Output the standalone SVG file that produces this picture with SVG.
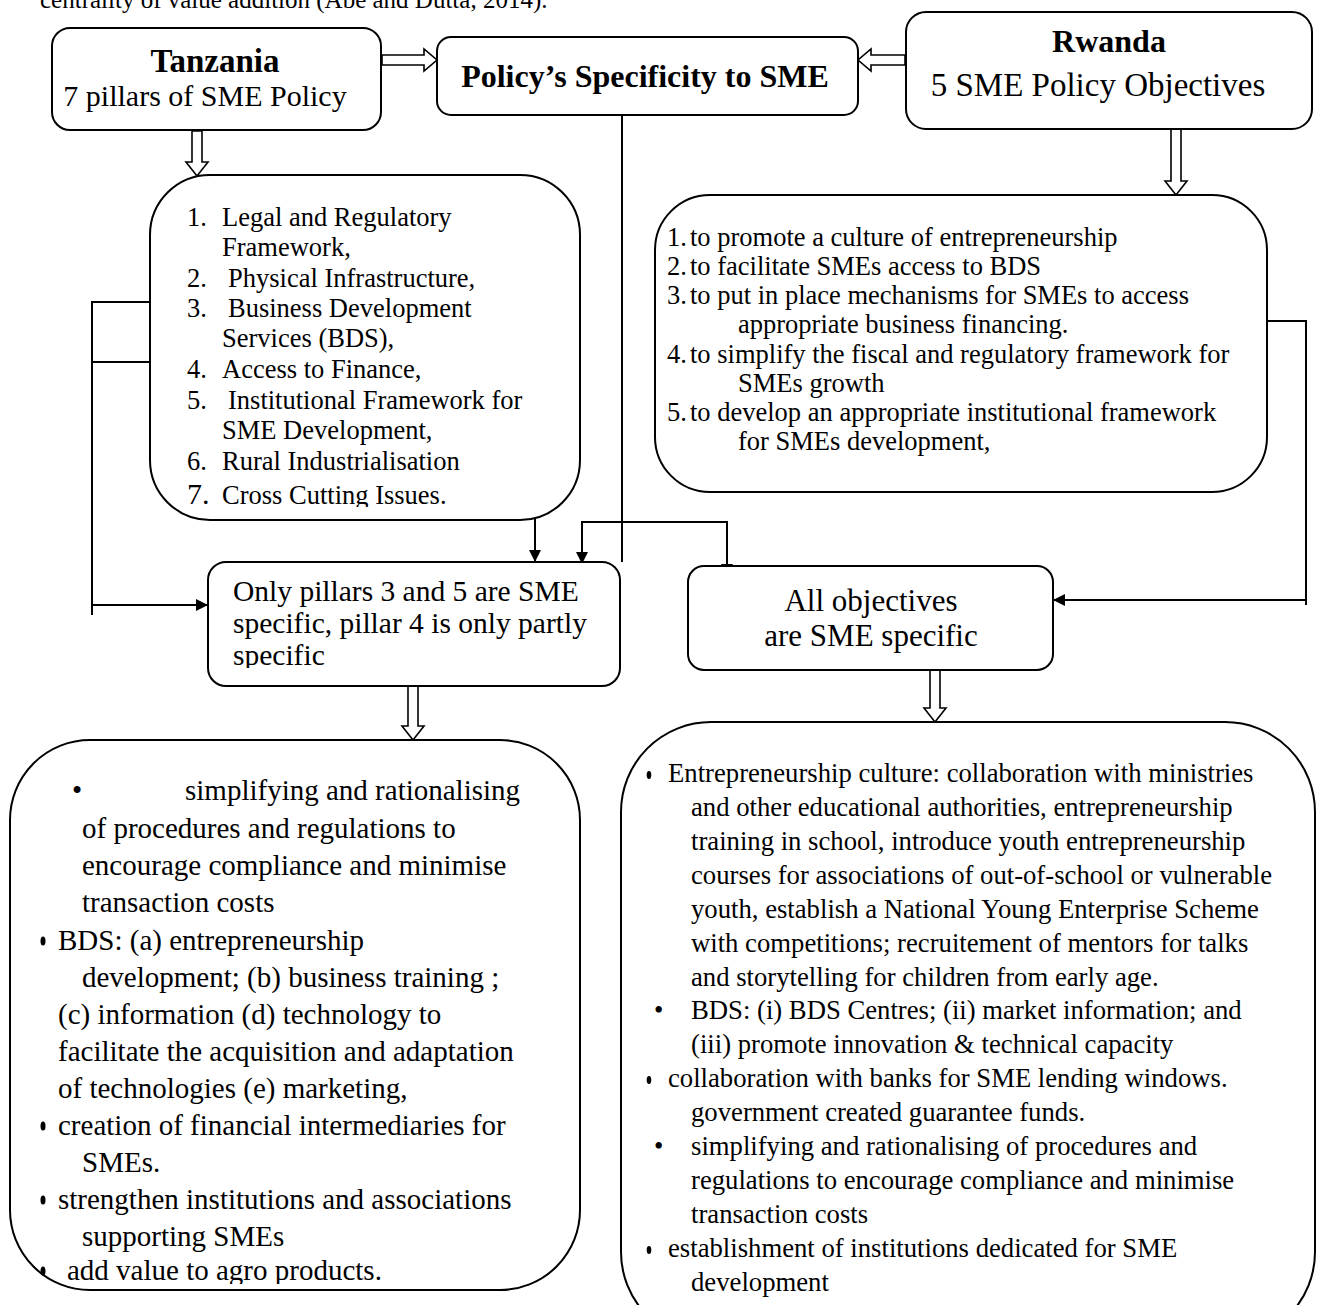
<svg xmlns="http://www.w3.org/2000/svg" width="1317" height="1305" viewBox="0 0 1317 1305">
  <style>
    .box { fill: #fff; stroke: #000; stroke-width: 2; }
    .blk { fill: #fff; stroke: #000; stroke-width: 1.6; }
    .ln { fill: none; stroke: #000; stroke-width: 2; }
    .t { font-family: "Liberation Serif", "Times New Roman", serif; fill: #000; }
    .b { font-weight: bold; }
  </style>
  <defs>
    <marker id="ah" viewBox="0 0 12 12" refX="12" refY="6" markerWidth="12" markerHeight="12" markerUnits="userSpaceOnUse" orient="auto">
      <path d="M0,0 L12,6 L0,12 Z" fill="#000"/>
    </marker>
    <!-- text frames that trim the last line of a box -->
    <clipPath id="clipPillars"><rect x="150" y="175" width="430" height="332"/></clipPath>
    <clipPath id="clipTzSpec"><rect x="208" y="562" width="412" height="106"/></clipPath>
    <clipPath id="clipTzMeas"><rect x="10" y="740" width="570" height="544"/></clipPath>
  </defs>

  <rect width="1317" height="1305" fill="#fff"/>

  <!-- running text above the figure -->
  <text class="t" font-size="25" x="40" y="8">centrality of value addition (Abe and Dutta, 2014).</text>

  <!-- connectors -->
  <g id="connectors">
    <!-- hollow block arrows -->
    <path class="blk" d="M382,55 H424 V49 L437,60 L424,71 V65 H382 Z"/>
    <path class="blk" d="M905,55 H871 V49 L858,60 L871,71 V65 H905 Z"/>
    <path class="blk" d="M192,131 V162 H186 L197,176 L208,162 H202 V131 Z"/>
    <path class="blk" d="M1171,129 V181 H1165 L1176,195 L1187,181 H1181 V129 Z"/>
    <path class="blk" d="M408,686 V726 H402 L413,740 L424,726 H418 V686 Z"/>
    <path class="blk" d="M930,670 V708 H924 L935,722 L946,708 H940 V670 Z"/>

    <!-- pillar links on the left -->
    <path class="ln" d="M165,302 H92 V615"/>
    <path class="ln" d="M165,362 H92"/>
    <path class="ln" d="M92,605 H208" marker-end="url(#ah)"/>
    <path class="ln" d="M437,348 H535 V562" marker-end="url(#ah)"/>

    <!-- central split -->
    <path class="ln" d="M622,115 V562"/>
    <path class="ln" d="M650,522 H582 V564" marker-end="url(#ah)"/>
    <path class="ln" d="M640,522 H727 V576" marker-end="url(#ah)"/>

    <!-- objectives link on the right -->
    <path class="ln" d="M1267,321 H1306 V605"/>
    <path class="ln" d="M1306,600 H1053" marker-end="url(#ah)"/>
  </g>

  <g id="tanzania">
    <rect class="box" x="52" y="28" width="329" height="102" rx="18"/>
    <text class="t b" font-size="33" x="215" y="72" text-anchor="middle">Tanzania</text>
    <text class="t" font-size="30" x="205" y="106" text-anchor="middle">7 pillars of SME Policy</text>
  </g>

  <g id="policy">
    <rect class="box" x="437" y="37" width="421" height="78" rx="14"/>
    <text class="t b" font-size="32" x="645" y="87" text-anchor="middle">Policy’s Specificity to SME</text>
  </g>

  <g id="rwanda">
    <rect class="box" x="906" y="12" width="406" height="117" rx="20"/>
    <text class="t b" font-size="32" x="1109" y="52" text-anchor="middle">Rwanda</text>
    <text class="t" font-size="33" x="1098" y="96" text-anchor="middle">5  SME Policy Objectives</text>
  </g>

  <g id="pillars">
    <rect class="box" x="150" y="175" width="430" height="345" rx="60"/>
    <g class="t" font-size="26.5" clip-path="url(#clipPillars)">
      <text x="187" y="226">1.</text><text x="222" y="226">Legal and Regulatory</text>
      <text x="222" y="256">Framework,</text>
      <text x="187" y="287">2.</text><text x="228" y="287">Physical Infrastructure,</text>
      <text x="187" y="317">3.</text><text x="228" y="317">Business Development</text>
      <text x="222" y="347">Services (BDS),</text>
      <text x="187" y="378">4.</text><text x="222" y="378">Access to Finance,</text>
      <text x="187" y="409">5.</text><text x="228" y="409">Institutional Framework for</text>
      <text x="222" y="439">SME Development,</text>
      <text x="187" y="470">6.</text><text x="222" y="470">Rural Industrialisation</text>
      <text x="187" y="504" font-size="30">7.</text><text x="222" y="504">Cross Cutting Issues.</text>
    </g>
  </g>

  <g id="objectives">
    <rect class="box" x="655" y="195" width="612" height="297" rx="55"/>
    <g class="t" font-size="26.5">
      <text x="667" y="246">1.</text><text x="690" y="246">to promote a culture of entrepreneurship</text>
      <text x="667" y="275">2.</text><text x="690" y="275">to facilitate SMEs access to BDS</text>
      <text x="667" y="304">3.</text><text x="690" y="304">to put in place mechanisms for SMEs to access</text>
      <text x="738" y="333">appropriate business financing.</text>
      <text x="667" y="363">4.</text><text x="690" y="363">to simplify the fiscal and regulatory framework for</text>
      <text x="738" y="392">SMEs growth</text>
      <text x="667" y="421">5.</text><text x="690" y="421">to develop an appropriate institutional framework</text>
      <text x="738" y="450">for SMEs development,</text>
    </g>
  </g>

  <g id="tz-specific">
    <rect class="box" x="208" y="562" width="412" height="124" rx="18"/>
    <g class="t" font-size="29.5" clip-path="url(#clipTzSpec)">
      <text x="233" y="601">Only pillars 3 and 5 are SME</text>
      <text x="233" y="633">specific, pillar 4 is only partly</text>
      <text x="233" y="665">specific</text>
    </g>
  </g>

  <g id="rw-specific">
    <rect class="box" x="688" y="566" width="365" height="104" rx="16"/>
    <text class="t" font-size="31" x="871" y="611" text-anchor="middle">All objectives</text>
    <text class="t" font-size="31" x="871" y="646" text-anchor="middle">are SME specific</text>
  </g>

  <g id="tz-measures">
    <rect class="box" x="10" y="740" width="570" height="550" rx="80"/>
    <g class="t" font-size="29" clip-path="url(#clipTzMeas)">
      <text x="72" y="800">•</text><text x="185" y="800">simplifying and rationalising</text>
      <text x="82" y="838">of procedures and regulations to</text>
      <text x="82" y="875">encourage compliance and minimise</text>
      <text x="82" y="912">transaction costs</text>
      <text x="58" y="950">BDS: (a) entrepreneurship</text>
      <text x="82" y="987">development; (b) business training ;</text>
      <text x="58" y="1024">(c) information (d) technology to</text>
      <text x="58" y="1061">facilitate the acquisition and adaptation</text>
      <text x="58" y="1098">of technologies (e) marketing,</text>
      <text x="58" y="1135">creation of financial intermediaries for</text>
      <text x="82" y="1172">SMEs.</text>
      <text x="58" y="1209">strengthen institutions and associations</text>
      <text x="82" y="1246">supporting SMEs</text>
      <text x="67" y="1280">add value to agro products.</text>
    </g>
    <g fill="#000">
      <ellipse cx="43" cy="941" rx="2.5" ry="4.5"/>
      <ellipse cx="43" cy="1126" rx="2.5" ry="4.5"/>
      <ellipse cx="43" cy="1200" rx="2.5" ry="4.5"/>
      <ellipse cx="43" cy="1271" rx="2.5" ry="4.5"/>
    </g>
  </g>

  <g id="rw-measures">
    <rect class="box" x="621" y="722" width="694" height="620" rx="90"/>
    <g class="t" font-size="26.7">
      <text x="668" y="782">Entrepreneurship culture: collaboration with ministries</text>
      <text x="691" y="816">and other educational authorities, entrepreneurship</text>
      <text x="691" y="850">training in school, introduce youth entrepreneurship</text>
      <text x="691" y="884">courses for associations of out-of-school or vulnerable</text>
      <text x="691" y="918">youth,  establish a National Young Enterprise Scheme</text>
      <text x="691" y="952">with competitions; recruitement of mentors for talks</text>
      <text x="691" y="986">and storytelling for children from early age.</text>
      <text x="654" y="1019">•</text><text x="691" y="1019">BDS: (i) BDS Centres; (ii) market information;  and</text>
      <text x="691" y="1053">(iii) promote innovation &amp; technical capacity</text>
      <text x="668" y="1087">collaboration with banks for SME lending windows.</text>
      <text x="691" y="1121">government created guarantee funds.</text>
      <text x="654" y="1155">•</text><text x="691" y="1155">simplifying and rationalising of procedures and</text>
      <text x="691" y="1189">regulations to encourage compliance and minimise</text>
      <text x="691" y="1223">transaction costs</text>
      <text x="668" y="1257">establishment of institutions dedicated for SME</text>
      <text x="691" y="1291">development</text>
    </g>
    <g fill="#000">
      <ellipse cx="649" cy="775" rx="2.3" ry="4"/>
      <ellipse cx="649" cy="1080" rx="2.3" ry="4"/>
      <ellipse cx="649" cy="1250" rx="2.3" ry="4"/>
    </g>
  </g>
</svg>
